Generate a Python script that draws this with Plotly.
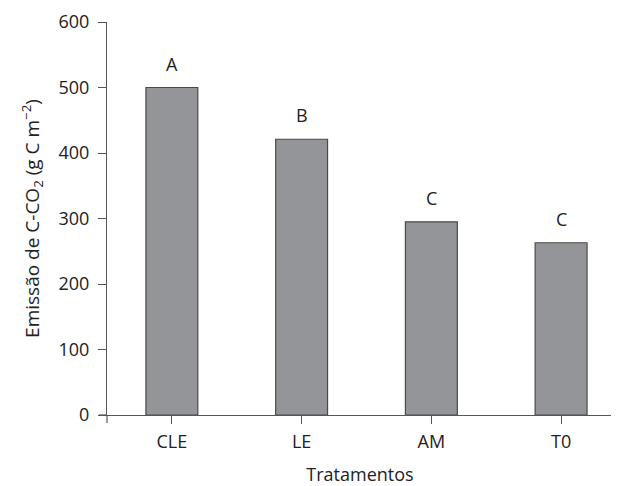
import plotly.graph_objects as go

categories = ["CLE", "LE", "AM", "T0"]
values = [500, 421, 295, 263]
letters = ["A", "B", "C", "C"]
y_ticks = [0, 100, 200, 300, 400, 500, 600]

FONT = "Open Sans"
AX = "#555555"

fig = go.Figure()
fig.add_trace(go.Bar(
    x=list(range(len(categories))), y=values, width=0.4,
    marker=dict(color="#939598", line=dict(color="#4a4a4a", width=1.2)),
    showlegend=False,
))
for i, (v, t) in enumerate(zip(values, letters)):
    fig.add_annotation(x=i, y=v, text=t, showarrow=False, yanchor="bottom",
                       yshift=10, font=dict(family=FONT, size=18, color="#222"))

fig.update_layout(
    width=611, height=478,
    margin=dict(l=99, r=6, t=14, b=71),
    plot_bgcolor="white", paper_bgcolor="white",
    font=dict(family=FONT, size=18, color="#222"),
    bargap=0.6,
)
fig.update_xaxes(
    range=[-0.5, 3.4], automargin=False,
    tickvals=list(range(len(categories))),
    ticktext=categories,
    ticks="outside", ticklen=8, tickcolor=AX, tickwidth=1.2,
    ticklabelstandoff=2,
    showline=True, linecolor=AX, linewidth=1.2,
    showgrid=False, zeroline=False,
    title=dict(text="Tratamentos", standoff=24, font=dict(size=18)),
    tickfont=dict(size=18),
)
fig.update_yaxes(
    range=[0, 600], tickvals=y_ticks, automargin=False,
    ticks="outside", ticklen=8, tickcolor=AX, tickwidth=1.2,
    ticklabelstandoff=5,
    showline=True, linecolor=AX, linewidth=1.2,
    showgrid=False, zeroline=False,
    title=dict(text="Emissão de C-CO<sub>2</sub> (g C m<sup>−2</sup>)", standoff=13, font=dict(size=19)),
    tickfont=dict(size=18),
)
# small axis extensions past the origin and the tick at the corner
fig.add_shape(type="line", xref="paper", yref="paper", x0=-8/506, x1=0, y0=0, y1=0,
              line=dict(color=AX, width=1.2))
fig.add_shape(type="line", xref="paper", yref="paper", x0=0, x1=0, y0=0, y1=-8/393,
              line=dict(color=AX, width=1.2))

fig.write_html("out.html")
